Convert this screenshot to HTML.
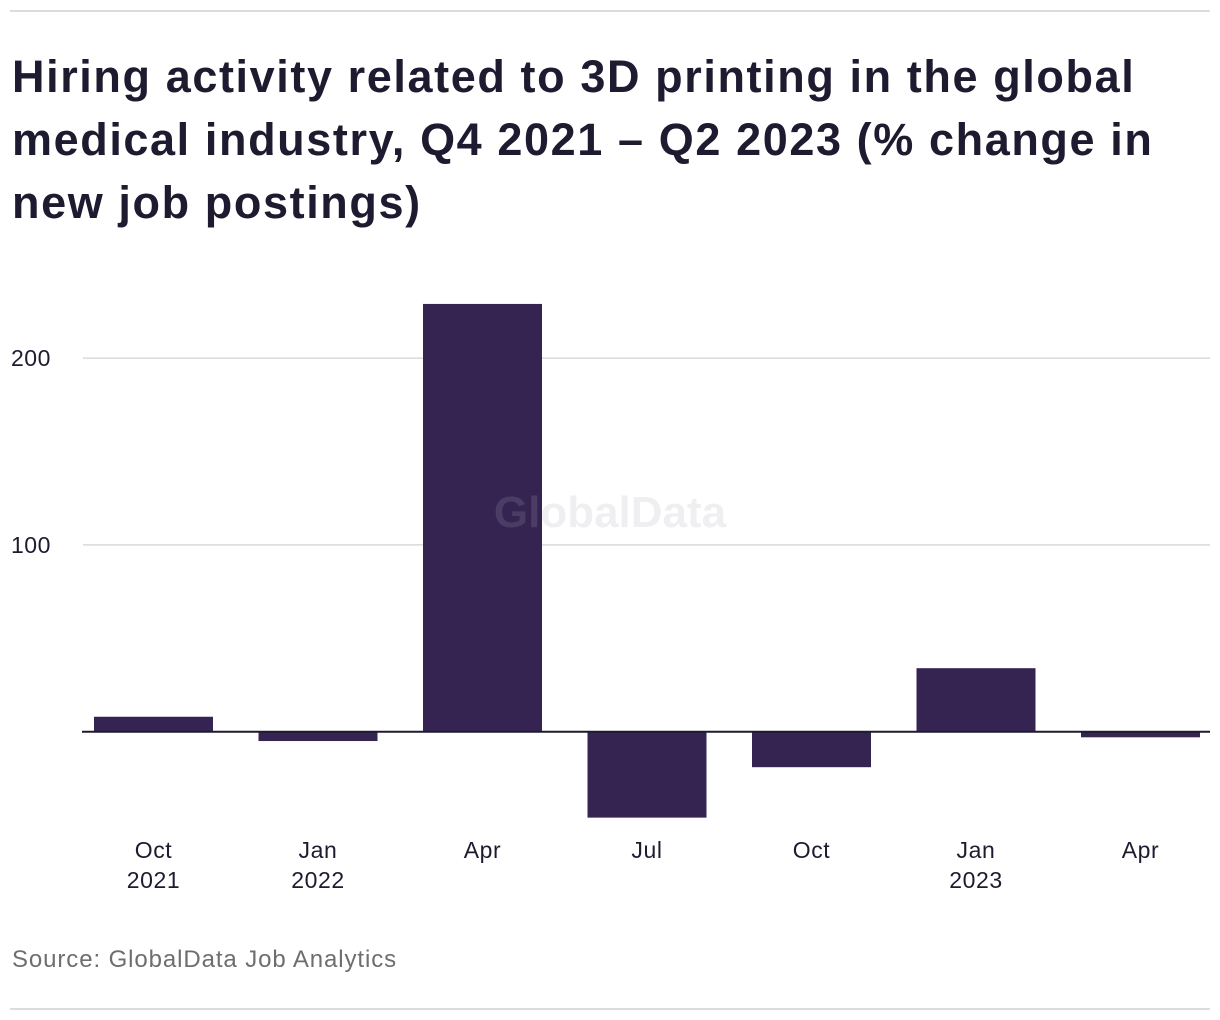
<!DOCTYPE html>
<html><head><meta charset="utf-8"><style>
body{margin:0;background:#fff;width:1220px;height:1020px;overflow:hidden;font-family:"Liberation Sans",sans-serif;color:#1e1b30}
.rule{position:absolute;left:10px;width:1200px;height:2px;background:#dcdcdc}
h1{position:absolute;left:12px;top:45px;margin:0;font-size:45px;line-height:63px;font-weight:bold;width:1200px;letter-spacing:1.6px;white-space:nowrap}
#src{position:absolute;left:12px;top:946px;font-size:24px;color:#6e6e6e;letter-spacing:0.9px}
</style></head><body>
<div class="rule" style="top:10px"></div>
<h1>Hiring activity related to 3D printing in the global<br>medical industry, Q4 2021 – Q2 2023 (% change in<br>new job postings)</h1>
<svg id="chart" width="1220" height="1020" style="position:absolute;left:0;top:0"></svg>
<div id="src">Source: GlobalData Job Analytics</div>
<div class="rule" style="top:1008px"></div>
<script>
const months=["Oct","Jan","Apr","Jul","Oct","Jan","Apr"];
const years=["2021","2022","","","","2023",""];
const values=[8,-5,229,-46,-19,34,-3];
const yTicks=[100,200];
const svg=document.getElementById('chart');
const NS='http://www.w3.org/2000/svg';
const y=v=>731.7-v*1.868;
const xc=i=>153.5+i*164.5;
const bw=119;
function mk(t,a){const e=document.createElementNS(NS,t);for(const k in a)e.setAttribute(k,a[k]);svg.appendChild(e);return e;}
yTicks.forEach(t=>{
 const l=mk('line',{x1:83,x2:1210,y1:y(t),y2:y(t),stroke:'#dadada','stroke-width':1.5});
 
 
 const tx=mk('text',{x:11,y:y(t)+8,'font-size':23,fill:'#1e1b30','font-family':'Liberation Sans, sans-serif','letter-spacing':'0.5'});
 tx.textContent=t;
 
 
});
values.forEach((v,i)=>{
 const top=Math.min(y(v),y(0)),h=Math.abs(y(v)-y(0));
 const r=mk('rect',{x:xc(i)-bw/2,y:top,width:bw,height:h,fill:'#352451'});
 
 
 const t1=mk('text',{x:xc(i),y:858,'font-size':23,fill:'#1e1b30','text-anchor':'middle','font-family':'Liberation Sans, sans-serif','letter-spacing':'0.6'});
 t1.textContent=months[i];
 
 
 if(years[i]){const t2=mk('text',{x:xc(i),y:888,'font-size':23,fill:'#1e1b30','text-anchor':'middle','font-family':'Liberation Sans, sans-serif','letter-spacing':'0.6'});
 t2.textContent=years[i];
 
 }
});
const wm=mk('text',{x:610,y:527,'font-size':44,'font-weight':'bold',fill:'#ffffff','fill-opacity':0.12,'text-anchor':'middle','font-family':'Liberation Sans, sans-serif'});
wm.textContent='GlobalData';


const wm2=mk('text',{x:610,y:527,'font-size':44,'font-weight':'bold',fill:'#352451','fill-opacity':0.08,'text-anchor':'middle','font-family':'Liberation Sans, sans-serif'});
wm2.textContent='GlobalData';


const z=mk('line',{x1:82,x2:1210,y1:y(0),y2:y(0),stroke:'#1e1b30','stroke-width':2});


</script>
</body></html>
